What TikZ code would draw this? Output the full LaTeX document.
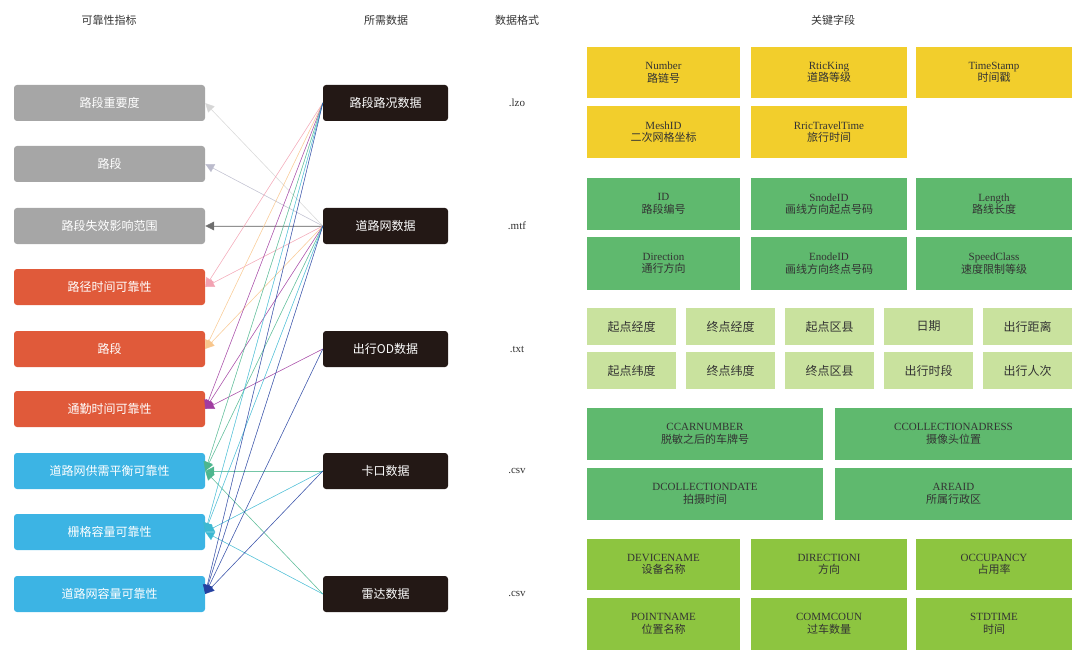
\documentclass[tikz,border=0pt]{standalone}
\usepackage{fontspec}
\setmainfont{Liberation Serif}
\newfontfamily\cjk{Noto Sans CJK SC}
\usetikzlibrary{arrows.meta,positioning}
\definecolor{grayA}{HTML}{A6A6A6}
\definecolor{redA}{HTML}{E05A3A}
\definecolor{blueA}{HTML}{3CB4E4}
\definecolor{darkA}{HTML}{231815}
\definecolor{yellowF}{HTML}{F2CE2C}
\definecolor{greenF}{HTML}{5FB96E}
\definecolor{lightF}{HTML}{C9E29E}
\definecolor{limeF}{HTML}{8DC540}
\definecolor{lnA}{HTML}{D6D6D6}
\definecolor{lnB}{HTML}{BBBBCC}
\definecolor{lnC}{HTML}{6E6E6E}
\definecolor{lnD}{HTML}{F2A2B2}
\definecolor{lnE}{HTML}{F8C68C}
\definecolor{lnF}{HTML}{A03CA0}
\definecolor{lnG}{HTML}{4DB68E}
\definecolor{lnH}{HTML}{3CB8D2}
\definecolor{lnI}{HTML}{2440A0}
\tikzset{
  metric/.style={rounded corners=3pt, text=white, minimum width=191pt, minimum height=36pt, font=\cjk\fontsize{12}{14}\selectfont},
  source/.style={rounded corners=3pt, fill=darkA, text=white, minimum width=125pt, minimum height=36pt, font=\cjk\fontsize{12}{14}\selectfont},
  heading/.style={font=\cjk\fontsize{11}{13}\selectfont, text=black!80},
  field/.style={text=black!80, align=center, inner sep=0pt, font=\fontsize{11}{12.5}\selectfont},
  link/.style={line width=0.6pt, -{Triangle[length=9pt,width=9pt]}}
}
\begin{document}
\begin{tikzpicture}[x=1pt,y=-1pt]
\useasboundingbox (0,0) rectangle (1080,658);
% headings
\node[heading] (h1) at (109,20) {可靠性指标};
\node[heading] (h2) at (386,20) {所需数据};
\node[heading] (h3) at (517,20) {数据格式};
\node[heading] (h4) at (833,20) {关键字段};
% metrics
\foreach \n/\y/\c/\t in {m1/103/grayA/路段重要度, m2/164/grayA/路段/道路网结构可靠性, m3/226/grayA/路段失效影响范围,
  m4/287/redA/路径时间可靠性, m5/349/redA/路段/道路网时间可靠性, m6/409/redA/通勤时间可靠性,
  m7/471/blueA/道路网供需平衡可靠性, m8/532/blueA/栅格容量可靠性, m9/594/blueA/道路网容量可靠性}
  \node[metric, fill=\c] (\n) at (109.5,\y) {\t};
% sources
\foreach \n/\y/\t/\f in {s1/103/路段路况数据/.lzo, s2/226/道路网数据/.mtf, s3/349/出行OD数据/.txt, s4/471/卡口数据/.csv, s5/594/雷达数据/.csv}{
  \node[source] (\n) at (385.5,\y) {\t};
  \node[font=\fontsize{11}{13}\selectfont, text=black!80] (f\n) at (517,\y) {\f};
}
% links
\foreach \s/\m/\c in {s2/m1/lnA, s2/m2/lnB, s2/m3/lnC, s1/m4/lnD, s2/m4/lnD, s1/m5/lnE, s2/m5/lnE,
  s1/m6/lnF, s2/m6/lnF, s3/m6/lnF, s1/m7/lnG, s2/m7/lnG, s4/m7/lnG, s5/m7/lnG,
  s1/m8/lnH, s2/m8/lnH, s4/m8/lnH, s5/m8/lnH, s1/m9/lnI, s2/m9/lnI, s3/m9/lnI, s4/m9/lnI}
  \draw[link, draw=\c, fill=\c, draw opacity=0.75] (\s.west) -- (\m.east);
% fields: road status
\foreach \i/\a/\b/\c/\d/\t in {y1/587/47/740/98/{Number\\\cjk 路链号}, y2/751/47/907/98/{RticKing\\\cjk 道路等级},
  y3/916/47/1072/98/{TimeStamp\\\cjk 时间戳}, y4/587/106/740/158/{MeshID\\\cjk 二次网格坐标}, y5/751/106/907/158/{RricTravelTime\\\cjk 旅行时间}}
  \node[field, fill=yellowF, minimum width=\c-\a, minimum height=\d-\b] (\i) at ({(\a+\c)/2},{(\b+\d)/2}) {\t};
% fields: road network
\foreach \i/\a/\b/\c/\d/\t in {g1/587/178/740/230/{ID\\\cjk 路段编号}, g2/751/178/907/230/{SnodeID\\\cjk 画线方向起点号码},
  g3/916/178/1072/230/{Length\\\cjk 路线长度}, g4/587/237/740/290/{Direction\\\cjk 通行方向},
  g5/751/237/907/290/{EnodeID\\\cjk 画线方向终点号码}, g6/916/237/1072/290/{SpeedClass\\\cjk 速度限制等级}}
  \node[field, fill=greenF, minimum width=\c-\a, minimum height=\d-\b] (\i) at ({(\a+\c)/2},{(\b+\d)/2}) {\t};
% fields: OD
\foreach \t [count=\k from 0] in {起点经度,终点经度,起点区县,日期,出行距离}
  \node[field, fill=lightF, minimum width=89, minimum height=37, font=\cjk\fontsize{12}{14}\selectfont] (od\k) at (631.5+99*\k,326.5) {\t};
\foreach \t [count=\k from 0] in {起点纬度,终点纬度,终点区县,出行时段,出行人次}
  \node[field, fill=lightF, minimum width=89, minimum height=37, font=\cjk\fontsize{12}{14}\selectfont] (oe\k) at (631.5+99*\k,370.5) {\t};
% fields: checkpoint
\foreach \i/\a/\b/\c/\d/\t in {k1/587/408/823/460/{CCARNUMBER\\\cjk 脱敏之后的车牌号}, k2/835/408/1072/460/{CCOLLECTIONADRESS\\\cjk 摄像头位置},
  k3/587/468/823/520/{DCOLLECTIONDATE\\\cjk 拍摄时间}, k4/835/468/1072/520/{AREAID\\\cjk 所属行政区}}
  \node[field, fill=greenF, minimum width=\c-\a, minimum height=\d-\b] (\i) at ({(\a+\c)/2},{(\b+\d)/2}) {\t};
% fields: radar
\foreach \i/\a/\b/\c/\d/\t in {r1/587/539/740/590/{DEVICENAME\\\cjk 设备名称}, r2/751/539/907/590/{DIRECTIONI\\\cjk 方向},
  r3/916/539/1072/590/{OCCUPANCY\\\cjk 占用率}, r4/587/598/740/650/{POINTNAME\\\cjk 位置名称},
  r5/751/598/907/650/{COMMCOUN\\\cjk 过车数量}, r6/916/598/1072/650/{STDTIME\\\cjk 时间}}
  \node[field, fill=limeF, minimum width=\c-\a, minimum height=\d-\b] (\i) at ({(\a+\c)/2},{(\b+\d)/2}) {\t};
\end{tikzpicture}
\end{document}
